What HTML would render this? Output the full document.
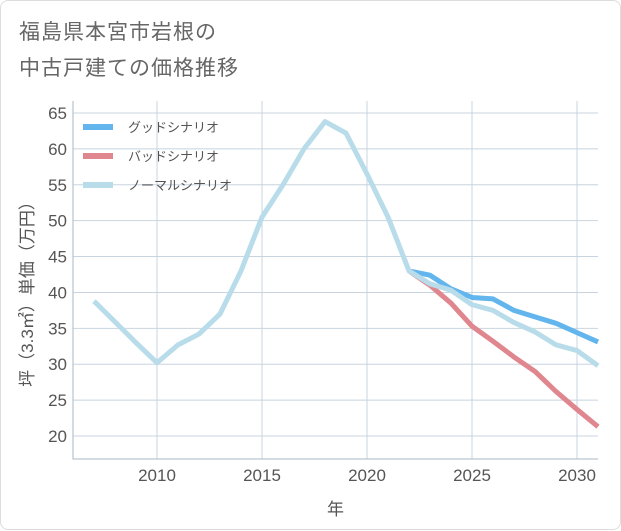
<!DOCTYPE html>
<html><head><meta charset="utf-8"><style>
html,body{margin:0;padding:0;background:#fff;}
#card{position:absolute;left:0;top:0;width:619px;height:528px;border:1px solid #ddd;border-radius:8px;background:#fff;font-family:"Liberation Sans","Noto Sans CJK JP",sans-serif;}
#title{position:absolute;left:18px;top:14px;font-size:21px;line-height:36px;color:#666;letter-spacing:1px;}
svg{position:absolute;left:0;top:0;}
</style></head><body>
<div id="card">
<div id="title">福島県本宮市岩根の<br>中古戸建ての価格推移</div>
<svg id="chart" width="621" height="530"></svg>
</div>
<script>
const years=[2007,2008,2009,2010,2011,2012,2013,2014,2015,2016,2017,2018,2019,2020,2021,2022,2023,2024,2025,2026,2027,2028,2029,2030,2031];
const normalVals=[38.8,35.9,33,30.2,32.7,34.2,37,43,50.5,55,60,63.8,62.2,56.5,50.5,43,41.2,40.3,38.3,37.5,35.8,34.5,32.7,31.9,29.8];
const futureYears=[2022,2023,2024,2025,2026,2027,2028,2029,2030,2031];
const goodVals=[43,42.4,40.5,39.3,39.1,37.5,36.6,35.7,34.4,33.1];
const badVals=[43,41,38.5,35.3,33.2,31,29,26.2,23.7,21.3];
const yTicks=[20,25,30,35,40,45,50,55,60,65];
const xTicks=[2010,2015,2020,2025,2030];
const legendLabels=["グッドシナリオ","バッドシナリオ","ノーマルシナリオ"];
const colors=["#63b5ee","#e0868e","#b8dcea"];

const L=72,R=597,T=100,B=458;
const xs=v=>L+(v-2006)/(2031-2006)*(R-L);
const ys=v=>435-(v-20)*(323/45);
const svg=document.getElementById('chart');
const NS="http://www.w3.org/2000/svg";
function mk(t,a){const e=document.createElementNS(NS,t);for(const k in a)e.setAttribute(k,a[k]);svg.appendChild(e);return e;}
xTicks.forEach(yr=>{
  let g=mk('line',{x1:xs(yr),x2:xs(yr),y1:T,y2:B,stroke:'#c8d4df','stroke-width':1});
  
  
});
yTicks.forEach(v=>{
  let g=mk('line',{x1:L,x2:R,y1:ys(v),y2:ys(v),stroke:'#c8d4df'});
  
  
  let t=mk('text',{x:L-6,y:ys(v)+6,'text-anchor':'end','font-size':17,fill:'#555'});
  t.textContent=v;
  
  
});
let ax=mk('path',{d:`M${L},${T} L${L},${B} L${R},${B}`,fill:'none',stroke:'#aab8c6'});


xTicks.forEach(v=>{
  let t=mk('text',{x:xs(v),y:B+22,'text-anchor':'middle','font-size':17,fill:'#555'});
  t.textContent=v;
  
  
});
let xt=mk('text',{x:(L+R)/2,y:514,'text-anchor':'middle','font-size':17,fill:'#555'});
xt.textContent='年';


let yt=mk('text',{x:0,y:0,'text-anchor':'middle','font-size':17,fill:'#555',transform:`translate(32,${(T+B)/2+10}) rotate(-90)`});
yt.textContent='坪（3.3㎡）単価（万円）';


function line(xa,va,c,name){
  const d=xa.map((x,i)=>(i?'L':'M')+xs(x)+','+ys(va[i])).join(' ');
  let p=mk('path',{d:d,fill:'none',stroke:c,'stroke-width':5,'stroke-linejoin':'round'});
  
  
}
line(futureYears,goodVals,colors[0],'good-scenario-line');
line(futureYears,badVals,colors[1],'bad-scenario-line');
line(years,normalVals,colors[2],'normal-scenario-line');
legendLabels.forEach((lb,i)=>{
  const y=126+i*29;
  let r=mk('line',{x1:82,x2:112,y1:y,y2:y,stroke:colors[i],'stroke-width':6});
  
  
  let t=mk('text',{x:127,y:y+5,'font-size':13,fill:'#555'});
  t.textContent=lb;
  
  
});
</script>
</body></html>
